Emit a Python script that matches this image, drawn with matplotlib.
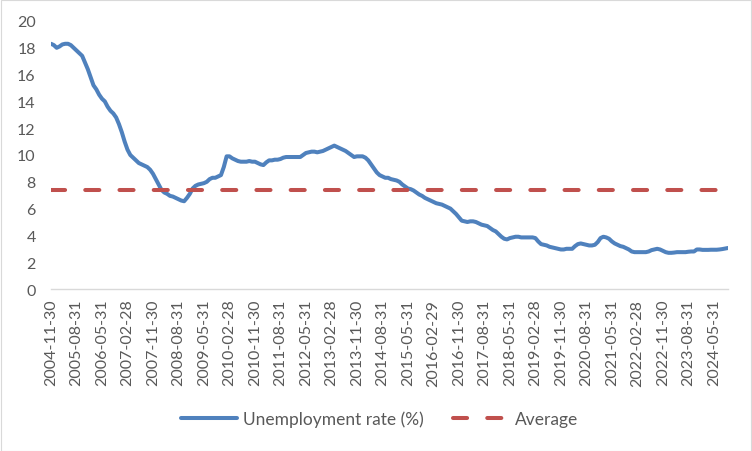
import numpy as np
import pandas as pd
import matplotlib
matplotlib.use("Agg")
import matplotlib.pyplot as plt
from matplotlib.patches import Rectangle

# monthly unemployment rate (%), 2004-11 .. 2024-10
rate_2004 = [18.3, 18.2]
rate_2005 = [18.0, 18.1, 18.25, 18.3, 18.3, 18.2, 18.0, 17.8, 17.6, 17.4, 16.9, 16.4]
rate_2006 = [15.8, 15.2, 14.9, 14.5, 14.2, 14.0, 13.6, 13.3, 13.1, 12.8, 12.3, 11.7]
rate_2007 = [11.0, 10.4, 10.0, 9.8, 9.6, 9.4, 9.3, 9.2, 9.1, 8.9, 8.6, 8.2]
rate_2008 = [7.8, 7.4, 7.2, 7.1, 6.95, 6.9, 6.8, 6.7, 6.6, 6.55, 6.8, 7.1]
rate_2009 = [7.5, 7.7, 7.8, 7.85, 7.9, 8.0, 8.2, 8.3, 8.3, 8.4, 8.5, 9.1]
rate_2010 = [9.9, 9.9, 9.75, 9.65, 9.55, 9.5, 9.5, 9.5, 9.55, 9.5, 9.5, 9.4]
rate_2011 = [9.3, 9.25, 9.45, 9.6, 9.6, 9.65, 9.65, 9.7, 9.8, 9.85, 9.85, 9.85]
rate_2012 = [9.85, 9.85, 9.85, 10.0, 10.15, 10.2, 10.25, 10.25, 10.2, 10.25, 10.3, 10.4]
rate_2013 = [10.5, 10.6, 10.7, 10.6, 10.5, 10.4, 10.3, 10.15, 10.0, 9.85, 9.9, 9.9]
rate_2014 = [9.9, 9.8, 9.6, 9.3, 9.0, 8.7, 8.5, 8.4, 8.3, 8.3, 8.2, 8.15]
rate_2015 = [8.1, 8.0, 7.8, 7.65, 7.5, 7.45, 7.35, 7.2, 7.05, 6.95, 6.8, 6.7]
rate_2016 = [6.6, 6.5, 6.4, 6.35, 6.3, 6.2, 6.1, 6.0, 5.8, 5.6, 5.35, 5.1]
rate_2017 = [5.05, 5.0, 5.05, 5.05, 5.0, 4.9, 4.8, 4.75, 4.7, 4.55, 4.4, 4.3]
rate_2018 = [4.1, 3.9, 3.75, 3.7, 3.8, 3.85, 3.9, 3.9, 3.85, 3.85, 3.85, 3.85]
rate_2019 = [3.85, 3.8, 3.55, 3.35, 3.3, 3.25, 3.15, 3.1, 3.05, 3.0, 2.95, 2.95]
rate_2020 = [3.0, 3.0, 3.0, 3.2, 3.35, 3.4, 3.35, 3.3, 3.25, 3.25, 3.3, 3.5]
rate_2021 = [3.8, 3.9, 3.85, 3.75, 3.55, 3.4, 3.3, 3.2, 3.15, 3.05, 2.95, 2.8]
rate_2022 = [2.75, 2.75, 2.75, 2.75, 2.75, 2.8, 2.9, 2.95, 3.0, 2.95, 2.85, 2.75]
rate_2023 = [2.7, 2.7, 2.72, 2.75, 2.75, 2.75, 2.75, 2.78, 2.8, 2.8, 2.95, 2.95]
rate_2024 = [2.92, 2.92, 2.92, 2.93, 2.93, 2.93, 2.95, 2.98, 3.02, 3.06]

average = 7.4

rate = (rate_2004 + rate_2005 + rate_2006 + rate_2007 + rate_2008 + rate_2009
        + rate_2010 + rate_2011 + rate_2012 + rate_2013 + rate_2014 + rate_2015
        + rate_2016 + rate_2017 + rate_2018 + rate_2019 + rate_2020 + rate_2021
        + rate_2022 + rate_2023 + rate_2024)
dates = pd.date_range("2004-11-30", periods=len(rate), freq="ME")
labels = [d.strftime("%Y-%m-%d") for d in dates]

plt.rcParams["font.family"] = ["Lato", "DejaVu Sans"]
grey = "#595959"

fig = plt.figure(figsize=(7.52, 4.52), dpi=100)
ax = fig.add_axes([51 / 752, 1 - 290 / 452, 677 / 752, 268 / 452])

x = np.arange(len(rate))
ax.plot(x, rate, color="#4F81BD", lw=2.9, solid_capstyle="round",
        solid_joinstyle="round", label="Unemployment rate (%)")
ax.plot(x, [average] * len(rate), color="#C0504D", lw=2.9,
        dashes=(3.5, 5), dash_capstyle="round", label="Average")

ax.set_xlim(0, len(rate) - 1)
ax.set_ylim(0, 20)
ax.set_yticks(range(0, 21, 2))
ax.set_xticks(x[::9])
ax.set_xticklabels(labels[::9], rotation=90)
ax.tick_params(axis="both", length=0, colors=grey, labelsize=11.5)
ax.tick_params(axis="y", pad=11)
ax.tick_params(axis="x", pad=7)
for s in ["left", "right", "top"]:
    ax.spines[s].set_visible(False)
ax.spines["bottom"].set_color("#D9D9D9")
ax.spines["bottom"].set_linewidth(1.0)

leg = fig.legend(loc="center", bbox_to_anchor=(0.505, 1 - 420 / 452), ncol=2,
                 frameon=False, fontsize=12.5, handlelength=3.2,
                 columnspacing=1.7, handletextpad=0.35)
for t in leg.get_texts():
    t.set_color(grey)

fig.patches.append(Rectangle((0.5 / 752, 0.5 / 452), 1 - 1.5 / 752, 1 - 1.5 / 452,
                             transform=fig.transFigure, fill=False,
                             edgecolor="#D9D9D9", lw=0.8))

fig.savefig("out.png", dpi=100)
